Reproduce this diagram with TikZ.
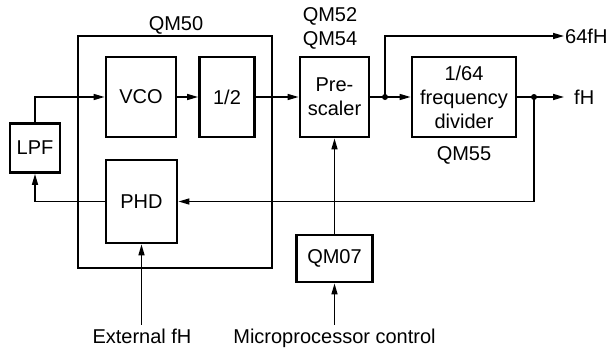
\documentclass[tikz,border=0pt]{standalone}
\usepackage{fontspec}
\setmainfont{Liberation Sans}
\usetikzlibrary{arrows.meta, positioning, calc}

\begin{document}
\begin{tikzpicture}[x=1pt, y=-1pt, font=\fontsize{20}{24}\selectfont,
    blk/.style={draw, line width=2.8pt, inner sep=0pt, align=center},
    sig/.style={line width=1.5pt, -{Triangle[length=11pt, width=6pt]}},
    dot/.style={circle, fill, inner sep=0pt, minimum size=6pt}]
    \useasboundingbox (0,0) rectangle (612,349);

    % QM50 (VCO, 1/2, PHD)
    \node[blk, minimum width=194pt, minimum height=232pt] (qm50) at (175,152) {};
    \node (qm50lbl) at (176,25) {QM50};
    \node[blk, minimum width=70pt, minimum height=80pt] (vco) at (141,97) {VCO};
    \node[blk, minimum width=55pt, minimum height=80pt] (half) at (227,97) {1/2};
    \node[blk, minimum width=71pt, minimum height=83pt] (phd) at (141.5,201.5) {PHD};

    % filter
    \node[blk, minimum width=50pt, minimum height=49pt] (lpf) at (35,148) {LPF};

    % prescaler and divider
    \node[blk, minimum width=69pt, minimum height=80pt] (pre) at (334.5,97) {Pre-\\scaler};
    \node[align=center] (prelbl) at (330,28) {QM52\\QM54};
    \node[blk, minimum width=104pt, minimum height=80pt] (div) at (464,97) {1/64\\frequency\\divider};
    \node (divlbl) at (464,155) {QM55};
    \node[blk, minimum width=76pt, minimum height=47pt] (qm07) at (334.5,258.5) {QM07};

    % inputs / outputs
    \node[anchor=base] (ext) at (142,343) {External fH};
    \node[anchor=base] (micro) at (334.5,343) {Microprocessor control};
    \coordinate (o64) at (564,36);
    \coordinate (ofh) at (564,97);
    \node[anchor=west, inner sep=1pt] (l64) at (o64) {64fH};
    \node[anchor=west, inner sep=1pt] (lfh) at ($(ofh)+(9,0)$) {fH};

    % signal path
    \draw[sig] (lpf.north) |- (vco.west);
    \draw[sig] (vco) -- (half);
    \draw[sig] (half) -- (pre);
    \draw[sig] (pre) -- (div);
    \node[dot] (j1) at (385,97) {};
    \draw[sig] (j1.center) |- (o64);
    \draw[sig] (div) -- (ofh);
    \node[dot] (j2) at (534,97) {};
    \draw[sig] (j2.center) |- (phd.east);
    \draw[sig] (phd.west) -| (lpf.south);

    % control inputs
    \draw[sig] (qm07) -- (pre);
    \draw[sig] (micro.north) -- (qm07.south);
    \draw[sig] (ext.north -| phd.south) -- (phd.south);
\end{tikzpicture}
\end{document}
